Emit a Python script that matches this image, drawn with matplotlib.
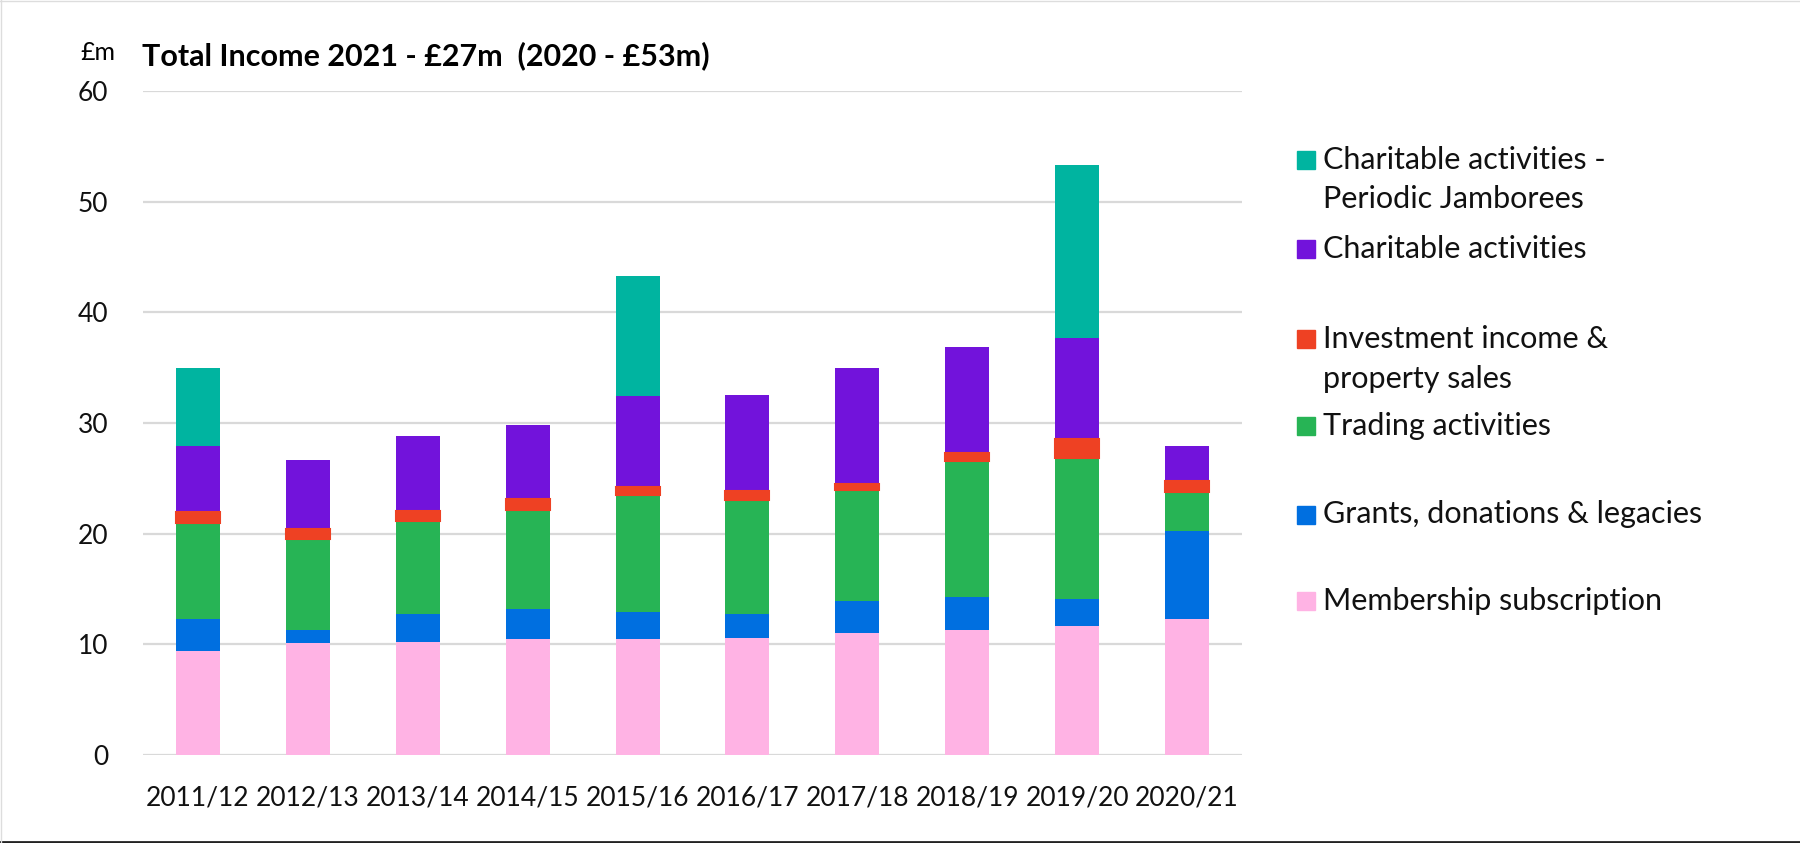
import matplotlib.pyplot as plt
from matplotlib.patches import Rectangle
from matplotlib.lines import Line2D
import numpy as np

plt.rcParams['font.family'] = ['Lato', 'DejaVu Sans']

# Data (GBP m)
years = ['2011/12', '2012/13', '2013/14', '2014/15', '2015/16',
         '2016/17', '2017/18', '2018/19', '2019/20', '2020/21']
membership = [9.36, 10.08, 10.18, 10.47, 10.47, 10.57, 11.05, 11.34, 11.68, 12.26]
grants = [2.90, 1.21, 2.52, 2.71, 2.42, 2.13, 2.86, 2.91, 2.43, 7.95]
trading = [8.68, 8.20, 8.48, 8.97, 10.57, 10.37, 10.04, 12.36, 12.70, 3.59]
investment = [1.02, 0.97, 0.88, 0.97, 0.78, 0.83, 0.58, 0.68, 1.74, 0.97]
charitable = [5.96, 6.20, 6.73, 6.74, 8.24, 8.67, 10.42, 9.55, 9.16, 3.15]
jamborees = [7.08, 0, 0, 0, 10.76, 0, 0, 0, 15.61, 0]

series = [
    ('Membership subscription', membership, '#FFB3E4'),
    ('Grants, donations & legacies', grants, '#006FE0'),
    ('Trading activities', trading, '#27B455'),
    ('Investment income &\nproperty sales', investment, '#EE4123'),
    ('Charitable activities', charitable, '#7213DB'),
    ('Charitable activities -\nPeriodic Jamborees', jamborees, '#00B4A0'),
]

W, H = 1800, 843
fig = plt.figure(figsize=(W / 100, H / 100), dpi=100)
ax = fig.add_axes([143 / W, 1 - 755 / H, (1242 - 143) / W, (755 - 91) / H])

x = np.arange(len(years))
bottom = np.zeros(len(years))
for name, vals, col in series:
    vals = np.array(vals)
    if name.startswith('Investment'):
        ax.bar(x, vals, 0.4, bottom=bottom, color=col, edgecolor=col, linewidth=1.5, zorder=3)
    else:
        ax.bar(x, vals, 0.4, bottom=bottom, color=col, linewidth=0, zorder=2)
    bottom += vals

ax.set_ylim(0, 60)
ax.set_xlim(-0.5, 9.5)
ax.set_yticks(range(0, 61, 10))
ax.set_xticks(x)
ax.set_xticklabels(years)
ax.yaxis.grid(True, color='#D9D9D9', linewidth=1.6, zorder=0)
ax.set_axisbelow(True)
for s in ax.spines.values():
    s.set_visible(False)
ax.tick_params(axis='both', length=0, labelsize=19, colors='#111111')
ax.tick_params(axis='y', pad=25)
ax.tick_params(axis='x', pad=22)

fig.text(80 / W, 1 - 60 / H, '£m', fontsize=18, va='baseline', ha='left')
fig.text(142 / W, 1 - 65 / H, 'Total Income 2021 - £27m  (2020 - £53m)',
         fontsize=22, fontweight='bold', va='baseline', ha='left')

# legend, drawn by hand to keep the original spacing
leg_y = [160, 249, 339, 426, 514.5, 601]
for (name, vals, col), yy in zip(reversed(series), leg_y):
    fig.patches.append(Rectangle(((1297) / W, 1 - (yy + 9) / H), 18 / W, 18 / H,
                                 transform=fig.transFigure, color=col))
    for i, line in enumerate(name.split('\n')):
        fig.text(1323 / W, 1 - (yy + i * 39.5) / H, line, fontsize=22,
                 va='center', ha='left', color='#111111')

# frame lines of the original screenshot
fig.add_artist(Line2D([0, 1], [1 / H, 1 / H], transform=fig.transFigure, color='#222222', lw=2))
fig.add_artist(Line2D([0, 1], [1 - 0.5 / H, 1 - 0.5 / H], transform=fig.transFigure, color='#DDDDDD', lw=1))
fig.add_artist(Line2D([0.5 / W, 0.5 / W], [0, 1], transform=fig.transFigure, color='#DDDDDD', lw=1))

fig.savefig('out.png', dpi=100, facecolor='white')
